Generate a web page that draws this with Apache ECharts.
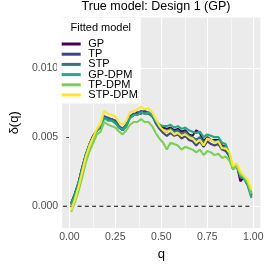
<!DOCTYPE html>
<html>
<head>
<meta charset="utf-8">
<script src="https://cdn.jsdelivr.net/npm/echarts@6/dist/echarts.min.js"></script>
<style>
html,body{margin:0;padding:0;background:#fff;}
#c{width:266px;height:266px;}
</style>
</head>
<body>
<div id="c"></div>
<script>
// ---- data ----
var q = [0.01,0.03,0.05,0.07,0.09,0.11,0.13,0.15,0.17,0.19,0.21,0.23,0.25,0.27,0.29,0.31,0.33,0.35,0.37,0.39,0.41,0.43,0.45,0.47,0.49,0.51,0.53,0.55,0.57,0.59,0.61,0.63,0.65,0.67,0.69,0.71,0.73,0.75,0.77,0.79,0.81,0.83,0.85,0.87,0.89,0.91,0.93,0.95,0.97,0.99];

var seriesNames = ["GP","TP","STP","GP-DPM","TP-DPM","STP-DPM"];

var GP = [0.0002,0.0009,0.0017,0.0028,0.0037,0.0045,0.0051,0.0055,0.0057,0.0065,0.0063,0.0063,0.0061,0.0057,0.0055,0.0058,0.0065,0.0066,0.0068,0.0067,0.0069,0.0067,0.0066,0.0061,0.0058,0.0057,0.0056,0.0057,0.0055,0.0056,0.0054,0.0055,0.0052,0.0051,0.0055,0.0053,0.0047,0.0050,0.0048,0.0048,0.0048,0.0044,0.0043,0.0037,0.0027,0.0030,0.0018,0.0021,0.0016,0.0008];
var TP = [0.0002,0.0009,0.0017,0.0028,0.0038,0.0045,0.0051,0.0055,0.0058,0.0065,0.0064,0.0063,0.0062,0.0058,0.0056,0.0059,0.0065,0.0067,0.0067,0.0069,0.0068,0.0068,0.0066,0.0060,0.0056,0.0053,0.0051,0.0053,0.0051,0.0052,0.0049,0.0051,0.0048,0.0047,0.0044,0.0047,0.0043,0.0047,0.0045,0.0044,0.0045,0.0041,0.0040,0.0036,0.0028,0.0030,0.0022,0.0021,0.0017,0.0009];
var STP = [0.0002,0.0009,0.0017,0.0028,0.0037,0.0045,0.0050,0.0055,0.0058,0.0064,0.0063,0.0062,0.0061,0.0057,0.0056,0.0059,0.0064,0.0066,0.0067,0.0068,0.0067,0.0067,0.0065,0.0061,0.0057,0.0055,0.0054,0.0056,0.0054,0.0055,0.0052,0.0054,0.0051,0.0050,0.0048,0.0050,0.0046,0.0049,0.0048,0.0047,0.0047,0.0043,0.0043,0.0037,0.0027,0.0030,0.0021,0.0020,0.0015,0.0007];
var GP_DPM = [0.0001,0.0008,0.0016,0.0027,0.0037,0.0045,0.0050,0.0055,0.0058,0.0064,0.0062,0.0062,0.0060,0.0057,0.0055,0.0058,0.0064,0.0066,0.0066,0.0068,0.0067,0.0068,0.0066,0.0062,0.0059,0.0058,0.0058,0.0059,0.0057,0.0058,0.0056,0.0057,0.0055,0.0054,0.0053,0.0054,0.0050,0.0052,0.0051,0.0050,0.0050,0.0046,0.0045,0.0038,0.0027,0.0030,0.0022,0.0020,0.0015,0.0006];
var TP_DPM = [-0.0004,0.0003,0.0011,0.0021,0.0032,0.0040,0.0046,0.0052,0.0054,0.0061,0.0059,0.0058,0.0057,0.0054,0.0052,0.0055,0.0059,0.0061,0.0061,0.0063,0.0061,0.0061,0.0058,0.0053,0.0049,0.0046,0.0041,0.0046,0.0045,0.0044,0.0041,0.0043,0.0042,0.0041,0.0039,0.0041,0.0037,0.0040,0.0039,0.0037,0.0038,0.0035,0.0036,0.0033,0.0027,0.0029,0.0023,0.0021,0.0017,0.0009];
var STP_DPM = [-0.0003,0.0005,0.0014,0.0025,0.0036,0.0044,0.0050,0.0056,0.0060,0.0069,0.0067,0.0066,0.0065,0.0061,0.0059,0.0062,0.0068,0.0069,0.0070,0.0072,0.0070,0.0071,0.0068,0.0063,0.0058,0.0055,0.0054,0.0055,0.0052,0.0053,0.0051,0.0052,0.0050,0.0049,0.0046,0.0048,0.0044,0.0049,0.0048,0.0046,0.0047,0.0042,0.0042,0.0039,0.0029,0.0031,0.0025,0.0022,0.0019,0.0012];

var zeroLineQ = [-0.035, 0.99];
var zeroLineY = [0, 0];

var xTicks = [0, 0.25, 0.5, 0.75, 1];
var xTickLabels = ["0.00","0.25","0.50","0.75","1.00"];
var xMinor = [0.125, 0.375, 0.625, 0.875];
var yTicks = [0, 0.005, 0.010];
var yTickLabels = ["0.000","0.005","0.010"];
var yMinor = [0.0025, 0.0075, 0.0125];

// ---- chart ----
var colors = ["#440154","#414487","#2A788E","#22A884","#7AD151","#FDE725"];
var values = [GP, TP, STP, GP_DPM, TP_DPM, STP_DPM];

var chart = echarts.init(document.getElementById('c'), null, {renderer:'canvas'});
var FONT = 'Liberation Sans, Arial, sans-serif';

function pairs(xs, ys){ return xs.map(function(x,i){ return [x, ys[i]]; }); }

var series = [];
series.push({
  type:'line', name:'_gridMajor', data:[], z:1, silent:true,
  markLine:{ silent:true, z:1, symbol:['none','none'], animation:false, label:{show:false},
    lineStyle:{color:'#FFFFFF', width:1.1, type:'solid'},
    emphasis:{disabled:true},
    data: xTicks.map(function(v){return {xAxis:v};}).concat(yTicks.map(function(v){return {yAxis:v};})) }
});
series.push({
  type:'line', name:'_gridMinor', data:[], z:1, silent:true,
  markLine:{ silent:true, z:1, symbol:['none','none'], animation:false, label:{show:false},
    lineStyle:{color:'#FFFFFF', width:0.55, type:'solid'},
    emphasis:{disabled:true},
    data: xMinor.map(function(v){return {xAxis:v};}).concat(yMinor.map(function(v){return {yAxis:v};})) }
});
series.push({
  type:'line', name:'_zero', data: pairs(zeroLineQ, zeroLineY), z:2, silent:true,
  symbol:'none', lineStyle:{color:'#000000', width:1.1, type:[4,3.3]}
});
for (var i=0;i<seriesNames.length;i++){
  series.push({
    type:'line', name: seriesNames[i], data: pairs(q, values[i]), z: 3,
    symbol:'none', showSymbol:false, color: colors[i],
    lineStyle:{color: colors[i], width:2.1}, emphasis:{disabled:true}
  });
}

var option = {
  animation:false,
  backgroundColor:'#FFFFFF',
  textStyle:{fontFamily: FONT},
  title:[
    {text:'True model: Design 1 (GP)', left:156, top:0, textAlign:'center', padding:0,
     textStyle:{fontSize:12.5, fontWeight:'normal', color:'#000000', fontFamily:FONT}},
    {text:'Fitted model', left:70.5, top:22, padding:0, z:20,
     textStyle:{fontSize:11, fontWeight:'normal', color:'#000000', fontFamily:FONT}}
  ],
  legend:{
    data: seriesNames, orient:'vertical', left:57, top:18, z:10,
    backgroundColor:'#FFFFFF', padding:[20.5,3,3,4.7],
    icon:'rect', itemWidth:19, itemHeight:3, itemGap:-0.8,
    selectedMode:false,
    textStyle:{fontSize:11, color:'#000000', fontFamily:FONT, padding:[0,0,0,2.6]}
  },
  grid:{left:49, right:2.5, top:17.5, bottom:30, show:true, backgroundColor:'#EBEBEB', borderWidth:0, containLabel:false},
  xAxis:{
    type:'value', min:-0.039, max:1.039,
    name:'q', nameLocation:'middle', nameGap:7,
    nameTextStyle:{fontSize:13, color:'#000000', fontFamily:FONT},
    axisLine:{show:false},
    axisTick:{show:true, length:3, lineStyle:{color:'#333333', width:1}, customValues: xTicks},
    axisLabel:{show:true, margin:4, fontSize:10.5, color:'#4D4D4D', fontFamily:FONT, customValues: xTicks,
      formatter:function(v){ var k = xTicks.indexOf(v); return k>=0 ? xTickLabels[k] : ''; }},
    splitLine:{show:false}
  },
  yAxis:{
    type:'value', min:-0.00158, max:0.01366,
    name:'δ(q)', nameLocation:'middle', nameGap:32, nameRotate:90,
    nameTextStyle:{fontSize:13, color:'#000000', fontFamily:FONT},
    axisLine:{show:false},
    axisTick:{show:true, length:3, lineStyle:{color:'#333333', width:1}, customValues: yTicks},
    axisLabel:{show:true, margin:4, fontSize:10.5, color:'#4D4D4D', fontFamily:FONT, customValues: yTicks,
      formatter:function(v){ var k = yTicks.indexOf(v); return k>=0 ? yTickLabels[k] : ''; }},
    splitLine:{show:false}
  },
  series: series
};
chart.setOption(option);
</script>
</body>
</html>
